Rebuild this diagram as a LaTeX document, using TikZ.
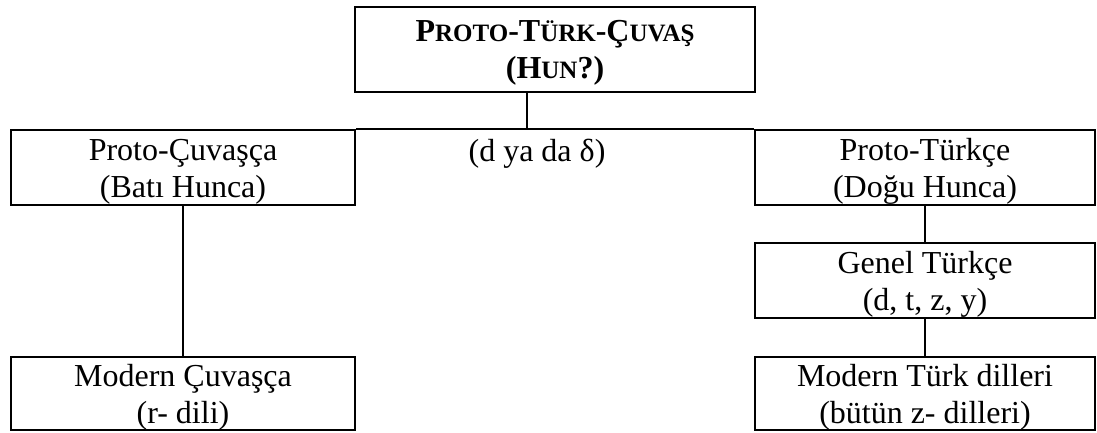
\documentclass[tikz,border=0pt]{standalone}
\usepackage{fontspec}
\setmainfont{Liberation Serif}
\usetikzlibrary{calc}
% reduced capitals for the small-caps title
\newcommand\smallcap[1]{{\fontsize{25}{28}\selectfont #1}}
\begin{document}
\begin{tikzpicture}[x=1pt,y=-1pt,
  box/.style={draw, line width=2.2pt, inner sep=0pt, minimum height=75pt},
  lbl/.style={align=center, inner sep=0pt, font=\fontsize{32}{36.8}\selectfont},
  link/.style={line width=2pt}]
\useasboundingbox (0,0) rectangle (1097,432);

% boxes
\node[box, minimum width=400pt, minimum height=85pt] (top) at (555,49.5) {};
\node[box, minimum width=344pt] (pc) at (183,167.5) {};
\node[box, minimum width=340pt] (pt) at (925,167.5) {};
\node[box, minimum width=340pt] (gt) at (925,280.5) {};
\node[box, minimum width=344pt, minimum height=73pt] (mc) at (183,393.5) {};
\node[box, minimum width=340pt, minimum height=73pt] (mt) at (925,393.5) {};

% box texts
\node[lbl, font=\fontsize{32}{36.8}\selectfont\bfseries] (topt) at ($(top.center)+(0,3)$)
  {P\smallcap{ROTO}-T\smallcap{ÜRK}-Ç\smallcap{UVAŞ}\\(H\smallcap{UN}?)};
\node[lbl] (pct) at ($(pc.center)+(0,4)$) {Proto-Çuvaşça\\(Batı Hunca)};
\node[lbl] (ptt) at ($(pt.center)+(0,4)$) {Proto-Türkçe\\(Doğu Hunca)};
\node[lbl] (gtt) at ($(gt.center)+(0,4)$) {Genel Türkçe\\(d, t, z, y)};
\node[lbl] (mct) at ($(mc.center)+(0,4)$) {Modern Çuvaşça\\(r- dili)};
\node[lbl] (mtt) at ($(mt.center)+(0,4)$) {Modern Türk dilleri\\(bütün z- dilleri)};
\node[lbl, anchor=base] (mid) at (537,161) {(d ya da δ)};

% connectors
\coordinate (hub) at (527,130);
\draw[link] (top.south -| hub) -- (hub);
\draw[link] (pc.north east) -- (pt.north west);
\draw[link] (pc) -- (mc);
\draw[link] (pt) -- (gt);
\draw[link] (gt) -- (mt);
\end{tikzpicture}
\end{document}
